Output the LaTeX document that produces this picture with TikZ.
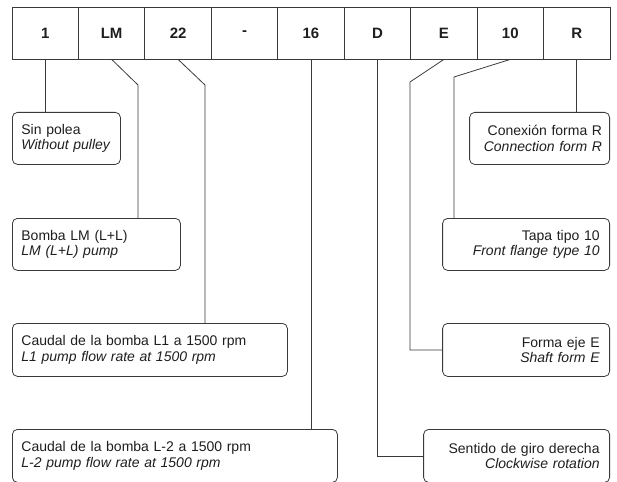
\documentclass[tikz,border=0pt]{standalone}
\usepackage{fontspec}
\setmainfont{Liberation Sans}
\usepackage{tikz}
\usetikzlibrary{positioning}
\definecolor{codeline}{HTML}{3A3A3A}
\definecolor{codetext}{HTML}{1E1E1E}
\newcommand{\es}[1]{\mbox{#1}}
\newcommand{\en}[1]{\mbox{\itshape #1}}

\begin{document}
\begin{tikzpicture}[
  x=1pt, y=-1pt,
  font=\fontsize{14}{15.5}\selectfont,
  text=codetext,
  cell/.style={draw=codeline, line width=0.8pt, minimum width=66.44pt,
               minimum height=52pt, inner sep=0pt,
               font=\fontsize{15}{17}\selectfont\bfseries},
  lbox/.style={draw=codeline, line width=0.8pt, rounded corners=5pt,
               minimum height=52pt, inner xsep=9pt, inner ysep=0pt,
               align=left, anchor=north west},
  rbox/.style={lbox, inner xsep=10pt, align=right, anchor=north east},
  link/.style={draw=codeline, line width=0.8pt}
]
  \useasboundingbox (0,0) rectangle (617,481);
  \clip (0,0) rectangle (617,481);

  % code cells
  \foreach \t [count=\i] in {1,LM,22,-,16,D,E,10,R}
    \node[cell] (c\i) at ({12+66.44*(\i-0.5)},33) {\t};

  % left column
  \node[lbox, text width=90pt] (pulley) at (12,112)
    {\es{Sin polea}\\\en{Without pulley}};
  \node[lbox, text width=150pt] (pump) at (12,218)
    {\es{Bomba LM (L+L)}\\\en{LM (L+L) pump}};
  \node[lbox, text width=257pt, minimum height=53pt] (flow1) at (12,323)
    {\es{Caudal de la bomba L1 a 1500 rpm}\\\en{L1 pump flow rate at 1500 rpm}};
  \node[lbox, text width=307pt, minimum height=53pt] (flow2) at (12,429)
    {\es{Caudal de la bomba L-2 a 1500 rpm}\\\en{L-2 pump flow rate at 1500 rpm}};

  % right column
  \node[rbox, text width=125pt, inner xsep=7.5pt] (conn) at (610,112)
    {\es{Conexión forma R}\\\en{Connection form R}};
  \node[rbox, text width=147pt] (flange) at (610,218)
    {\es{Tapa tipo 10}\\\en{Front flange type 10}};
  \node[rbox, text width=147pt, minimum height=53pt] (shaft) at (610,323)
    {\es{Forma eje E}\\\en{Shaft form E}};
  \node[rbox, text width=166pt, minimum height=53pt] (rot) at (610,429)
    {\es{Sentido de giro derecha}\\\en{Clockwise rotation}};

  % bends
  \coordinate (k2) at (138,85);
  \coordinate (k3) at (205,85);
  \coordinate (k7) at (410,82);
  \coordinate (k8) at (454,77);

  \draw[link] (c1.south) -- (c1.south |- pulley.north);
  \draw[link] (c2.south) -- (k2) -- (k2 |- pump.north);
  \draw[link] (c3.south) -- (k3) -- (k3 |- flow1.north);
  \draw[link] (c5.south) -- (c5.south |- flow2.north);
  \draw[link] (c6.south) |- (rot.west);
  \draw[link] (c7.south) -- (k7) |- (shaft.west);
  \draw[link] (c8.south) -- (k8) -- (k8 |- flange.north);
  \draw[link] (c9.south) -- (c9.south |- conn.north);
\end{tikzpicture}
\end{document}
